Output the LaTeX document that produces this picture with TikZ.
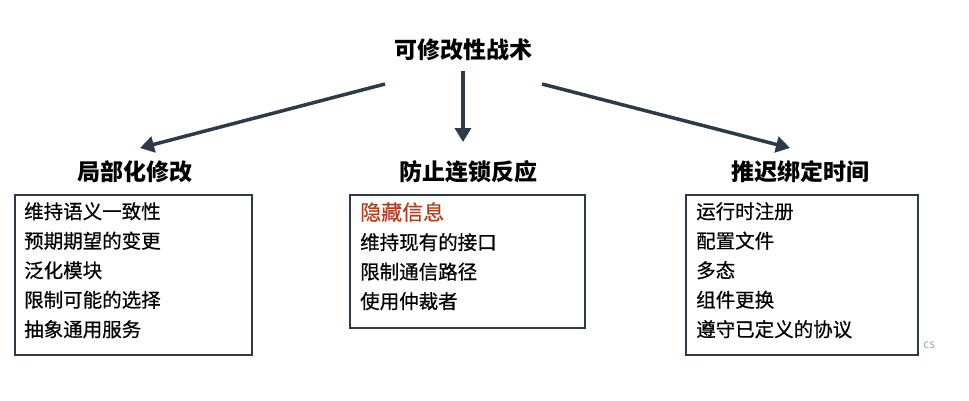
\documentclass[tikz,border=0pt]{standalone}
\usepackage{fontspec}
\setmainfont{Noto Sans CJK SC}
\newfontfamily\medf[FakeBold=0.5]{Noto Sans CJK SC}
\usetikzlibrary{arrows.meta}
\definecolor{arr}{HTML}{2E3A4A}
\definecolor{hid}{HTML}{B0401E}
\begin{document}
\begin{tikzpicture}[x=1pt,y=-1pt,
  hd/.style={font=\fontsize{23}{26}\selectfont\bfseries},
  bt/.style={anchor=north west,align=left,inner sep=0pt,font=\medf\fontsize{19.5}{29.5}\selectfont},
  ar/.style={draw=arr,line width=3.5pt,-{Triangle[length=14pt,width=16pt]}}]
\useasboundingbox (0,0) rectangle (969,400);
\node[hd] (t) at (463,50) {可修改性战术};
\node[hd] (h1) at (135,172) {局部化修改};
\node[hd] (h2) at (468,172) {防止连锁反应};
\node[hd] (h3) at (800,172) {推迟绑定时间};
\coordinate (s1) at (385,84);
\coordinate (s3) at (542,84);
\draw[ar] (s1) -- (140,148);
\draw[ar] (t.south) ++(0,6) -- (463,142);
\draw[ar] (s3) -- (790,148);
\draw[arr,line width=1.2pt] (15,195) rectangle (252,355);
\draw[arr,line width=1.2pt] (350,195) rectangle (585,328);
\draw[arr,line width=1.2pt] (686,195) rectangle (918,355);
\node[bt] (b1) at (24,202) {维持语义一致性\\预期期望的变更\\泛化模块\\限制可能的选择\\抽象通用服务};
\node[bt] (b2) at (360,202) {\textcolor{hid}{\fontsize{21}{29.5}\selectfont 隐藏信息}\\维持现有的接口\\限制通信路径\\使用仲裁者};
\node[bt] (b3) at (696,202) {运行时注册\\配置文件\\多态\\组件更换\\遵守已定义的协议};
\node[text=gray!70,font=\fontsize{12}{12}\selectfont] (cs) at (929,345) {cs};
\end{tikzpicture}
\end{document}
